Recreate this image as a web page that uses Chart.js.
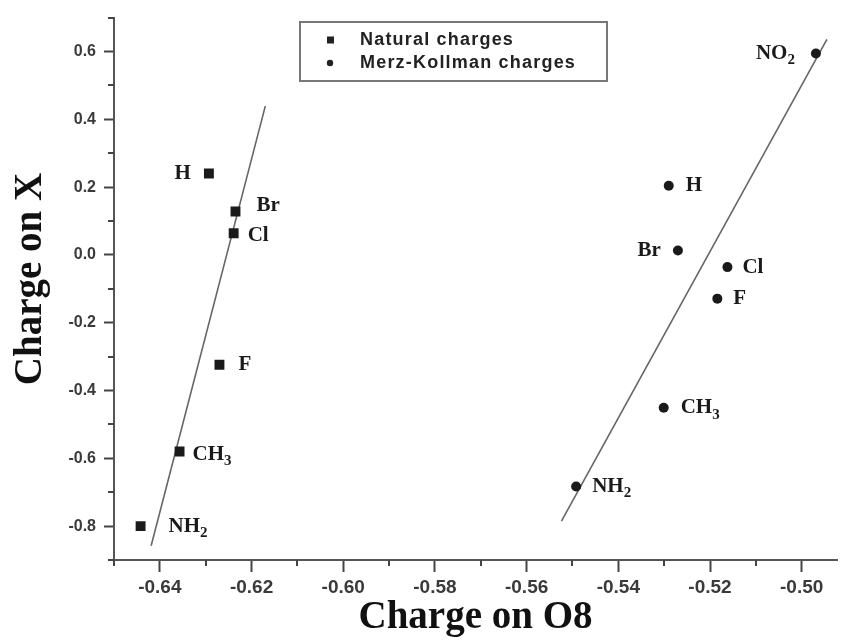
<!DOCTYPE html>
<html>
<head>
<meta charset="utf-8">
<script src="https://cdn.jsdelivr.net/npm/chart.js@4.4.0/dist/chart.umd.min.js"></script>
<style>
  html, body { margin: 0; padding: 0; background: #fff; }
  #wrap { width: 844px; height: 641px; }
</style>
</head>
<body>
<div id="wrap"><canvas id="chart" width="844" height="641"></canvas></div>
<script>
// substituent names and charges (x = charge on O8, y = charge on X)
const naturalLabels = ['H', 'Br', 'Cl', 'F', 'CH3', 'NH2'];
const naturalO8 = [-0.6293, -0.6235, -0.6239, -0.6270, -0.6357, -0.6442];
const naturalX = [0.240, 0.128, 0.064, -0.324, -0.580, -0.800];

const mkLabels = ['NO2', 'H', 'Br', 'Cl', 'F', 'CH3', 'NH2'];
const mkO8 = [-0.4969, -0.5290, -0.5270, -0.5162, -0.5184, -0.5301, -0.5492];
const mkX = [0.594, 0.204, 0.013, -0.036, -0.129, -0.451, -0.683];

// end points of the two fitted lines
const fitNaturalO8 = [-0.6170, -0.6419];
const fitNaturalX = [0.439, -0.858];
const fitMkO8 = [-0.4945, -0.5524];
const fitMkX = [0.636, -0.785];

const xTicks = [-0.64, -0.62, -0.60, -0.58, -0.56, -0.54, -0.52, -0.50];
const xMinorTicks = [-0.65, -0.63, -0.61, -0.59, -0.57, -0.55, -0.53, -0.51];
const yTicks = [-0.8, -0.6, -0.4, -0.2, 0.0, 0.2, 0.4, 0.6];
const yMinorTicks = [-0.9, -0.7, -0.5, -0.3, -0.1, 0.1, 0.3, 0.5, 0.7];

const toPoints = (xs, ys) => xs.map((x, i) => ({ x: x, y: ys[i] }));

// short ticks between the labelled ones
const minorTicks = {
    id: 'minorTicks',
    afterDraw(chart) {
        const ctx = chart.ctx;
        const xs = chart.scales.x, ys = chart.scales.y;
        ctx.save();
        ctx.strokeStyle = '#444';
        ctx.lineWidth = 2;
        ctx.beginPath();
        xMinorTicks.forEach(v => {
            if (v < xs.min || v > xs.max) return;
            const px = Math.round(xs.getPixelForValue(v));
            ctx.moveTo(px, ys.bottom);
            ctx.lineTo(px, ys.bottom + 6);
        });
        yMinorTicks.forEach(v => {
            if (v < ys.min || v > ys.max) return;
            const py = Math.round(ys.getPixelForValue(v));
            ctx.moveTo(xs.left, py);
            ctx.lineTo(xs.left - 6, py);
        });
        ctx.stroke();
        ctx.restore();
    }
};

// substituent names next to the points, trailing digits as subscripts
const pointNames = {
    id: 'pointNames',
    afterDatasetsDraw(chart, args, opts) {
        const ctx = chart.ctx;
        ctx.save();
        ctx.fillStyle = '#1a1a1a';
        ctx.textBaseline = 'middle';
        chart.data.datasets.forEach((ds, di) => {
            if (!ds.names) return;
            const meta = chart.getDatasetMeta(di);
            const tweaks = opts.tweaks[di] || {};
            meta.data.forEach((pt, i) => {
                const name = ds.names[i];
                const t = tweaks[name] || {};
                const main = name.replace(/\d+$/, '');
                const sub = name.slice(main.length);
                ctx.font = opts.font;
                const mw = ctx.measureText(main).width;
                ctx.font = opts.subFont;
                const sw = sub ? ctx.measureText(sub).width : 0;
                const gap = t.gap !== undefined ? t.gap : 15;
                const x = t.left ? pt.x - gap - mw - sw : pt.x + gap;
                const y = pt.y + (t.dy || 0);
                ctx.font = opts.font;
                ctx.fillText(main, x, y);
                if (sub) {
                    ctx.font = opts.subFont;
                    ctx.fillText(sub, x + mw, y + 7);
                }
            });
        });
        ctx.restore();
    }
};

// boxed legend at the top of the plot
const boxLegend = {
    id: 'boxLegend',
    afterDraw(chart) {
        const ctx = chart.ctx;
        ctx.save();
        ctx.strokeStyle = '#777';
        ctx.lineWidth = 2;
        ctx.strokeRect(300, 22, 307, 59);
        ctx.font = 'bold 18px "Liberation Sans", Arial, sans-serif';
        if ('letterSpacing' in ctx) ctx.letterSpacing = '1.2px';
        ctx.textBaseline = 'middle';
        ctx.fillStyle = '#222';
        const rows = chart.data.datasets.filter(ds => ds.names);
        rows.forEach((ds, i) => {
            const y = 40 + i * 23;
            if (ds.pointStyle === 'rect') {
                ctx.fillRect(327, y - 3.5, 7, 7);
            } else {
                ctx.beginPath();
                ctx.arc(330, y, 3.2, 0, Math.PI * 2);
                ctx.fill();
            }
            ctx.fillText(ds.label, 360, y);
        });
        ctx.restore();
    }
};

const serif = '"Liberation Serif", "Times New Roman", serif';
const sans = '"Liberation Sans", Arial, sans-serif';

new Chart(document.getElementById('chart').getContext('2d'), {
    type: 'scatter',
    data: {
        datasets: [{
            label: 'Natural charges',
            names: naturalLabels,
            data: toPoints(naturalO8, naturalX),
            pointStyle: 'rect',
            pointRadius: 7,
            backgroundColor: '#1a1a1a',
            borderColor: '#1a1a1a',
            borderWidth: 0
        }, {
            label: 'Merz-Kollman charges',
            names: mkLabels,
            data: toPoints(mkO8, mkX),
            pointStyle: 'circle',
            pointRadius: 5,
            backgroundColor: '#1a1a1a',
            borderColor: '#1a1a1a',
            borderWidth: 0
        }, {
            label: 'fit natural',
            data: toPoints(fitNaturalO8, fitNaturalX),
            showLine: true,
            pointRadius: 0,
            borderColor: '#666',
            borderWidth: 1.6
        }, {
            label: 'fit MK',
            data: toPoints(fitMkO8, fitMkX),
            showLine: true,
            pointRadius: 0,
            borderColor: '#666',
            borderWidth: 1.6
        }]
    },
    options: {
        responsive: false,
        animation: false,
        layout: { padding: { top: 13, right: 0, bottom: 0, left: 0 } },
        plugins: {
            legend: { display: false },
            tooltip: { enabled: false },
            pointNames: {
                font: 'bold 21px ' + serif,
                subFont: 'bold 15px ' + serif,
                tweaks: {
                    0: {
                        H: { left: true, gap: 18 },
                        Br: { gap: 21, dy: -6 },
                        Cl: { gap: 14, dy: 2 },
                        F: { gap: 19 },
                        CH3: { gap: 13, dy: 3 },
                        NH2: { gap: 28 }
                    },
                    1: {
                        NO2: { left: true, gap: 21 },
                        H: { gap: 17 },
                        Br: { left: true, gap: 17 },
                        F: { gap: 16 },
                        CH3: { gap: 17 },
                        NH2: { gap: 16 }
                    }
                }
            }
        },
        scales: {
            x: {
                type: 'linear',
                min: -0.65,
                max: -0.4923,
                afterBuildTicks: s => { s.ticks = xTicks.map(v => ({ value: v })); },
                afterFit: s => { s.height = 81; },
                grid: { drawOnChartArea: false, tickLength: 12, tickWidth: 2, color: '#444' },
                border: { color: '#555', width: 2 },
                ticks: {
                    padding: 4,
                    color: '#3a3a3a',
                    font: { family: sans, size: 19, weight: 'bold' },
                    callback: v => v.toFixed(2)
                },
                title: {
                    display: true,
                    text: 'Charge on O8',
                    color: '#111',
                    font: { family: serif, size: 39, weight: 'bold' },
                    padding: { top: 0, bottom: 0 }
                }
            },
            y: {
                type: 'linear',
                min: -0.9,
                max: 0.7,
                afterBuildTicks: s => { s.ticks = yTicks.map(v => ({ value: v })); },
                afterFit: s => { s.width = 114; },
                grid: { drawOnChartArea: false, tickLength: 10, tickWidth: 2, color: '#444' },
                border: { color: '#555', width: 2 },
                ticks: {
                    padding: 8,
                    color: '#3a3a3a',
                    font: { family: sans, size: 16, weight: 'bold' },
                    callback: v => v.toFixed(1)
                },
                title: {
                    display: true,
                    text: '  Charge on X',
                    color: '#111',
                    font: { family: serif, size: 39, weight: 'bold' },
                    padding: { top: 8, bottom: 0 }
                }
            }
        }
    },
    plugins: [minorTicks, pointNames, boxLegend]
});
</script>
</body>
</html>
